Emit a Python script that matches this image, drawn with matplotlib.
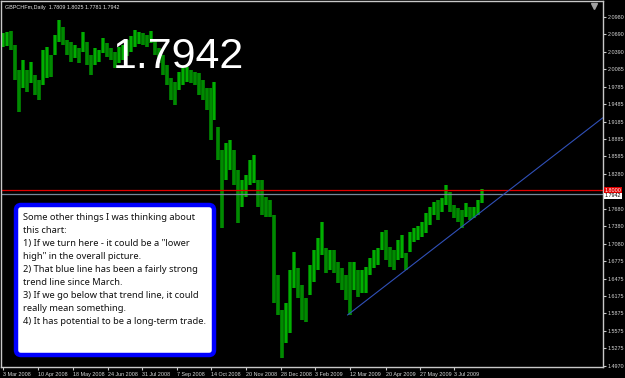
import pandas as pd
import matplotlib.pyplot as plt
from matplotlib.patches import FancyBboxPatch
from matplotlib.transforms import IdentityTransform, blended_transform_factory

# =========================
# DATA
# =========================
highs = [2.071, 2.073, 2.075, 2.050, 2.007, 2.025, 2.007, 2.021, 1.999, 1.990,
         2.042, 2.047, 2.033, 2.068, 2.094, 2.081, 2.059, 2.056, 2.050, 2.045,
         2.073, 2.056, 2.033, 2.045, 2.042, 2.062, 2.054, 2.045, 2.038, 2.047,
         2.050, 2.059, 2.066, 2.076, 2.073, 2.071, 2.068, 2.075, 2.059, 2.045,
         2.033, 2.016, 1.993, 1.987, 2.004, 2.011, 2.012, 2.007, 2.004, 2.002,
         1.990, 1.976, 1.976, 1.987, 1.909, 1.869, 1.881, 1.887, 1.869, 1.835,
         1.818, 1.826, 1.852, 1.861, 1.818, 1.818, 1.788, 1.783, 1.757, 1.654,
         1.593, 1.606, 1.663, 1.694, 1.666, 1.637, 1.614, 1.671, 1.697, 1.718,
         1.745, 1.700, 1.697, 1.697, 1.676, 1.666, 1.654, 1.676, 1.676, 1.663,
         1.663, 1.668, 1.683, 1.697, 1.700, 1.728, 1.731, 1.702, 1.697, 1.714,
         1.723, 1.692, 1.728, 1.735, 1.738, 1.745, 1.761, 1.771, 1.780, 1.783,
         1.787, 1.809, 1.797, 1.775, 1.769, 1.766, 1.778, 1.771, 1.771, 1.783,
         1.8025]
lows = [2.047, 2.049, 2.042, 1.990, 1.935, 1.976, 1.969, 1.985, 1.964, 1.956,
        1.981, 1.993, 1.995, 2.033, 2.056, 2.050, 2.033, 2.021, 2.028, 2.019,
        2.038, 2.016, 1.999, 2.016, 2.021, 2.037, 2.030, 2.025, 2.011, 2.019,
        2.025, 2.031, 2.038, 2.047, 2.052, 2.050, 2.047, 2.054, 2.033, 2.019,
        1.999, 1.981, 1.956, 1.947, 1.973, 1.981, 1.987, 1.985, 1.981, 1.964,
        1.956, 1.938, 1.887, 1.921, 1.852, 1.735, 1.818, 1.835, 1.809, 1.744,
        1.771, 1.788, 1.809, 1.813, 1.771, 1.757, 1.754, 1.754, 1.606, 1.585,
        1.511, 1.537, 1.554, 1.631, 1.614, 1.576, 1.573, 1.619, 1.642, 1.663,
        1.688, 1.657, 1.663, 1.657, 1.640, 1.628, 1.611, 1.585, 1.628, 1.616,
        1.623, 1.623, 1.654, 1.666, 1.671, 1.697, 1.680, 1.668, 1.663, 1.680,
        1.683, 1.663, 1.694, 1.711, 1.714, 1.719, 1.726, 1.740, 1.757, 1.749,
        1.763, 1.775, 1.763, 1.752, 1.745, 1.735, 1.754, 1.749, 1.752, 1.757,
        1.7781]
dates = pd.date_range("2008-03-03", "2009-08-02", periods=len(highs))

trend_dates = pd.to_datetime(["2009-03-10", "2009-12-10"])
trend_prices = [1.585, 1.9246]

alert_level = 1.8000
last_price = 1.7942

y_ticks = [2.0980, 2.0690, 2.0390, 2.0085, 1.9785, 1.9485, 1.9185, 1.8885,
           1.8585, 1.8280, 1.7680, 1.7380, 1.7080, 1.6775, 1.6475, 1.6175,
           1.5875, 1.5575, 1.5275, 1.4970]
x_ticks = pd.to_datetime(["2008-03-03", "2008-04-10", "2008-05-18", "2008-06-24",
                          "2008-07-31", "2008-09-07", "2008-10-14", "2008-11-20",
                          "2008-12-28", "2009-02-03", "2009-03-12", "2009-04-20",
                          "2009-05-27", "2009-07-03"])

header = "GBPCHFm,Daily  1.7809 1.8025 1.7781 1.7942"
note_lines = [
    "Some other things I was thinking about",
    "this chart:",
    "1) If we turn here - it could be a \"lower",
    "high\" in the overall picture.",
    "2) That blue line has been a fairly strong",
    "trend line since March.",
    "3) If we go below that trend line, it could",
    "really mean something.",
    "4) It has potential to be a long-term trade.",
]

# =========================
# FIGURE
# =========================
W, H = 625, 378
small = dict(family="Liberation Sans", fontsize=3.9)

fig = plt.figure(figsize=(W / 100, H / 100), dpi=100, facecolor="black")
ax = fig.add_axes([1 / W, (H - 367) / H, 602 / W, 366 / H], facecolor="black")

# price bars
mids = [(h + l) / 2 for h, l in zip(highs, lows)]
cols = ["#00c000" if i == 0 or mids[i] >= mids[i - 1] else "#009000"
        for i in range(len(mids))]
ax.vlines(dates, lows, highs, colors="#007800", linewidth=2.8)
ax.vlines(dates, lows, highs, colors=cols, linewidth=1.1)

# lines
ax.axhline(alert_level, color="#e00000", linewidth=0.9)
ax.axhline(last_price, color="#778899", linewidth=0.9)
ax.plot(trend_dates, trend_prices, color="#3050b8", linewidth=0.8)

# chart shift marker
ax.plot([0.985], [0.985], marker="v", markersize=4, color="#a0a0a0",
        transform=ax.transAxes, clip_on=False)

ax.set_xlim(pd.Timestamp("2008-03-01"), pd.Timestamp("2009-12-10 12:00"))
ax.set_ylim(1.4952, 2.1263)

# axes styling
for s in ax.spines.values():
    s.set_color("#c8c8c8")
    s.set_linewidth(1)
ax.yaxis.tick_right()
ax.set_yticks(y_ticks)
ax.set_yticklabels([f"{v:.4f}" for v in y_ticks], **small)
ax.set_xticks(x_ticks)
ax.set_xticklabels([f"{d.day} {d:%b %Y}" for d in x_ticks], ha="left", **small)
ax.tick_params(colors="#c8c8c8", labelcolor="#d8d8d8",
               length=2.5, width=0.8, pad=0.8)

# price tags on the right scale
tr = blended_transform_factory(ax.transAxes, ax.transData)
ax.text(1.003, last_price - 0.004, f"{last_price:.4f}", transform=tr,
        color="black", va="center", ha="left", clip_on=False,
        bbox=dict(fc="white", ec="none", pad=0.5), **small)
ax.text(1.003, alert_level, f"{alert_level:.4f}", transform=tr,
        color="white", va="center", ha="left", clip_on=False,
        bbox=dict(fc="#e00000", ec="none", pad=0.5), **small)

# header and big price
ax.text(0.006, 0.988, header, transform=ax.transAxes,
        color="#e8e8e8", va="top", ha="left", **small)
fig.text(178 / W, 1 - 57 / H, f"{last_price:.4f}", fontsize=31, color="white",
         ha="center", va="center", family="Liberation Sans")

# note box (pixel coordinates)
box = FancyBboxPatch((16, H - 355), 198, 150, boxstyle="round,pad=0,rounding_size=5",
                     transform=IdentityTransform(), fc="white", ec="#0000ff",
                     lw=3.2, zorder=10)
fig.patches.append(box)
for i, line in enumerate(note_lines):
    fig.text(23 / W, 1 - (217 + i * 13.1) / H, line, fontsize=6.7,
             family="Noto Sans", color="#111111", va="center", ha="left",
             zorder=11)

fig.savefig("out.png", dpi=100, facecolor="black")
